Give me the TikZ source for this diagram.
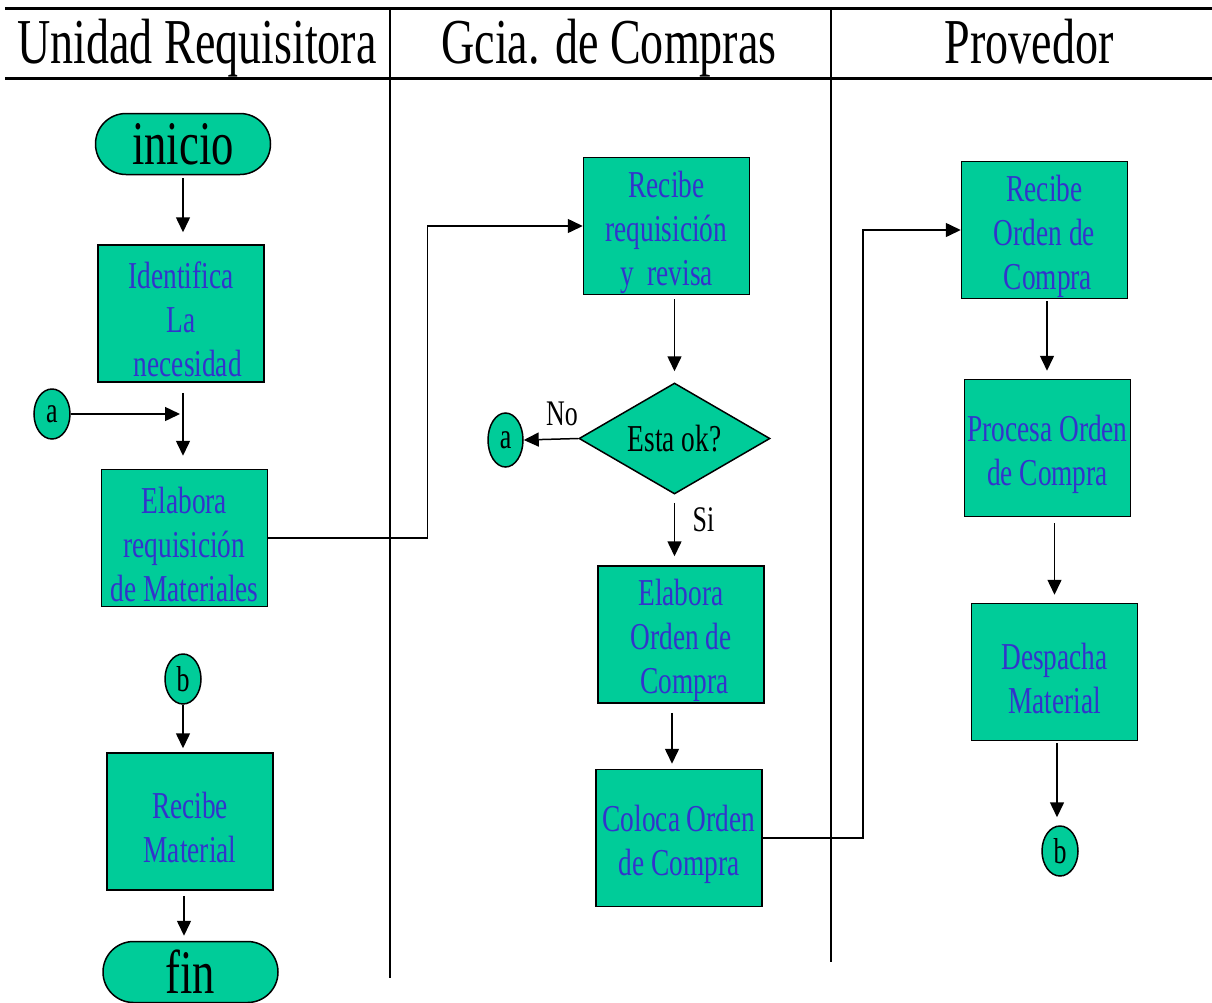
\documentclass[tikz,border=0pt]{standalone}
\usepackage{fontspec}
\setmainfont[FakeStretch=0.72]{Liberation Serif}
\usetikzlibrary{shapes.geometric,shapes.misc,arrows.meta}
\definecolor{boxfill}{RGB}{0,204,153}
\definecolor{boxtext}{RGB}{51,51,204}
% extra headroom above the first line of a process box
\newcommand{\toproom}{\rule{0pt}{39pt}}

\tikzset{
  proc/.style={draw=black, line width=1.5pt, fill=boxfill, minimum width=166pt,
    minimum height=137pt, inner sep=0pt, align=center, text=boxtext,
    font=\fontsize{38}{44}\selectfont},
  term/.style={draw=black, line width=1.5pt, fill=boxfill, rounded rectangle,
    minimum width=175pt, minimum height=61pt, inner sep=0pt,
    font=\fontsize{62}{62}\selectfont},
  conn/.style={draw=black, ellipse, line width=1.5pt, fill=boxfill, inner sep=0pt,
    minimum width=36pt, minimum height=50pt, font=\fontsize{36}{36}\selectfont},
  decision/.style={draw=black, diamond, line width=1.5pt, fill=boxfill, inner sep=0pt,
    aspect=1.72, minimum width=191pt, minimum height=111pt,
    font=\fontsize{38}{38}\selectfont},
  arr/.style={line width=1.5pt, -{Triangle[length=15pt,width=14pt]}},
  lane/.style={line width=1.5pt},
  rule/.style={line width=3pt},
  head/.style={font=\fontsize{64}{64}\selectfont, anchor=base},
  lbl/.style={font=\fontsize{36}{36}\selectfont}
}

\begin{document}
\begin{tikzpicture}[x=1pt, y=-1pt]
  \useasboundingbox (0,0) rectangle (1212,1002);

  % swimlane frame
  \draw[rule] (5,8) -- (1212,8);
  \draw[rule] (5,78) -- (1212,78);
  \draw[lane] (390,10) -- (390,978);
  \draw[lane] (831,10) -- (831,962);

  \node[head] (h1) at (197,63) {Unidad Requisitora};
  \node[head] (h2) at (609,63) {Gcia. de Compras};
  \node[head] (h3) at (1029,63) {Provedor};

  % Unidad Requisitora
  \node[term] (ini) at (183,144) {inicio};
  \node[proc] (idn) at (181,313.5) {\toproom Identifica\\La\\\ \ necesidad};
  \node[conn] (a1) at (52,414) {a};
  \coordinate (amerge) at (180,414);
  \node[proc] (er) at (184.5,538) {\toproom Elabora\\requisición\\de Materiales};
  \node[conn] (b1) at (183,679) {b};
  \node[proc] (rm) at (190,821.5) {\toproom Recibe\\Material};
  \node[term] (fin) at (190.5,972) {fin};

  % Gcia. de Compras
  \node[proc] (rr) at (666.5,226) {\toproom Recibe\\requisición\\y\ \ revisa};
  \node[decision] (dia) at (674.5,438.5) {Esta ok?};
  \node[conn, minimum width=35pt, minimum height=54pt] (a2) at (505.5,440) {a};
  \node[proc] (eoc) at (681,634.5) {\toproom Elabora\\Orden de\\\ Compra};
  \node[proc] (coc) at (679,838) {\toproom Coloca Orden\\de Compra};

  % Provedor
  \node[proc] (ro) at (1044.5,230) {\toproom Recibe\\Orden de\\\ Compra};
  \node[proc] (pro) at (1047.5,448) {\toproom Procesa Orden\\de Compra};
  \node[proc] (des) at (1054.5,672) {\toproom Despacha\\Material};
  \node[conn] (b2) at (1060,851) {b};

  % flow
  \draw[arr, shorten <=3pt, shorten >=12pt] (ini.south) -- (ini.south |- idn.north);
  \draw[arr, shorten <=10pt, shorten >=13pt] ([xshift=2pt]idn.south) -- ([xshift=2pt]idn.south |- er.north);
  \draw[arr] (a1.east) -- (amerge);
  \draw[arr, shorten >=4pt] (b1.south) -- (b1.south |- rm.north);
  \draw[arr, shorten <=5pt, shorten >=5pt] ([xshift=-6pt]rm.south) -- ([xshift=-6pt]rm.south |- fin.north);

  \draw[arr] (er.east) -- ++(159,0) |- (rr.west);
  \draw[arr, shorten <=4pt, shorten >=11pt] (dia.north |- rr.south) -- (dia.north);
  \draw[arr] (dia.west) -- (a2.east) node[lbl, pos=0.3, above=9pt] (no) {No};
  \draw[arr, shorten <=8pt, shorten >=9pt] (dia.south) -- (dia.south |- eoc.north)
    node[lbl, pos=0.35, right=14pt] (si) {Si};
  \draw[arr, shorten <=9pt, shorten >=5pt] ([xshift=-9pt]eoc.south) -- ([xshift=-9pt]eoc.south |- coc.north);

  \draw[arr] (coc.east) -- ++(100,0) |- (ro.west);
  \draw[arr, shorten <=2pt, shorten >=8pt] ([xshift=2.5pt]ro.south) -- ([xshift=2.5pt]ro.south |- pro.north);
  \draw[arr, shorten <=6pt, shorten >=8pt] (des.north |- pro.south) -- (des.north);
  \draw[arr, shorten <=2pt, shorten >=8pt] ([xshift=2.5pt]des.south) -- ([xshift=2.5pt]des.south |- b2.north);
\end{tikzpicture}
\end{document}
